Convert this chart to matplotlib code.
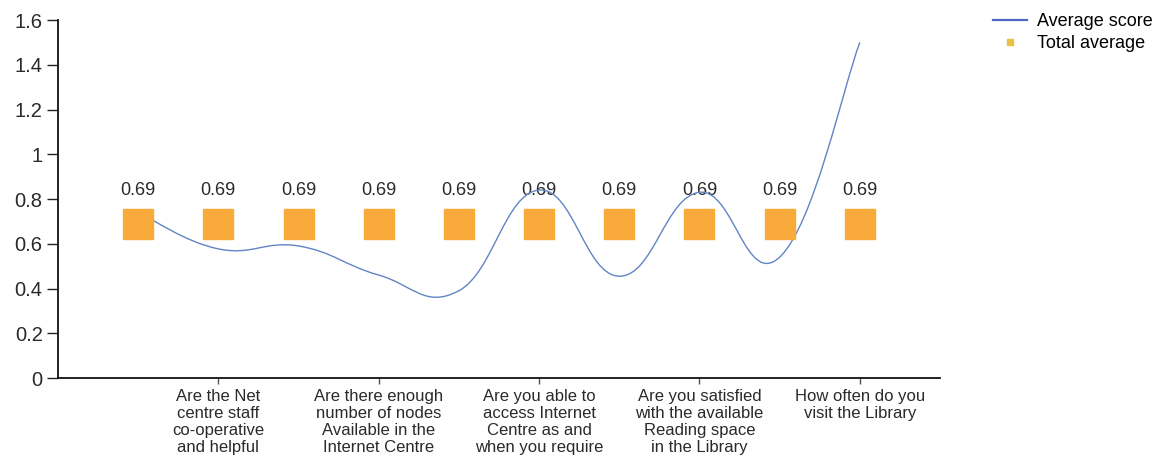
import matplotlib
matplotlib.use("Agg")
import matplotlib.pyplot as plt
from matplotlib.path import Path
from matplotlib.patches import PathPatch
from matplotlib.lines import Line2D
import numpy as np

plt.rcParams['font.family'] = ['Liberation Sans', 'DejaVu Sans']

# ---- data ----
category_index = [1, 2, 3, 4, 5, 6, 7, 8, 9, 10]
average_score = [0.74, 0.577, 0.59, 0.46, 0.39, 0.84, 0.455, 0.83, 0.54, 1.50]
total_average = [0.69, 0.69, 0.69, 0.69, 0.69, 0.69, 0.69, 0.69, 0.69, 0.69]
tick_labels = [
    "Are the Net\ncentre staff\nco-operative\nand helpful",
    "Are there enough\nnumber of nodes\nAvailable in the\nInternet Centre",
    "Are you able to\naccess Internet\nCentre as and\nwhen you require",
    "Are you satisfied\nwith the available\nReading space\nin the Library",
    "How often do you\nvisit the Library",
]
y_ticks = [0, 0.2, 0.4, 0.6, 0.8, 1.0, 1.2, 1.4, 1.6]
y_tick_labels = ["0", "0.2", "0.4", "0.6", "0.8", "1", "1.2", "1.4", "1.6"]

W, H, DPI = 1166, 465, 100
fig = plt.figure(figsize=(W / DPI, H / DPI), dpi=DPI)
ax = fig.add_axes([58 / W, 1 - 378 / H, (940 - 58) / W, (378 - 20) / H])

ax.set_xlim(0, 11)
ax.set_ylim(0, 1.6)

# cardinal spline (tension 0.8) through the data points, drawn as cubic Bezier
pts = np.column_stack([category_index, average_score]).astype(float)
t = 0.8
n = len(pts)
verts = [tuple(pts[0])]
codes = [Path.MOVETO]
for i in range(n - 1):
    p0 = pts[i - 1] if i > 0 else pts[i]
    p1 = pts[i]
    p2 = pts[i + 1]
    p3 = pts[i + 2] if i + 2 < n else pts[i + 1]
    c1 = p1 + (t / 3.0) * (p2 - p0) / 2.0 * 1.6
    c2 = p2 - (t / 3.0) * (p3 - p1) / 2.0 * 1.6
    verts += [tuple(c1), tuple(c2), tuple(p2)]
    codes += [Path.CURVE4] * 3
line_color = '#6185C4'
ax.add_patch(PathPatch(Path(verts, codes), facecolor='none', edgecolor=line_color,
                       lw=1.0, zorder=2))

# total average squares + labels
sq_color = '#F8AA3A'
ax.plot(category_index, total_average, linestyle='none', marker='s', markersize=22,
        markerfacecolor=sq_color, markeredgecolor=sq_color, zorder=3)
for x, v in zip(category_index, total_average):
    ax.annotate(f"{v:.2f}", (x, v), xytext=(0, 18), textcoords='offset points',
                ha='center', va='bottom', fontsize=13, color='#2a2a2a', zorder=1)

# axes styling
for s in ['top', 'right']:
    ax.spines[s].set_visible(False)
for s in ['left', 'bottom']:
    ax.spines[s].set_color('#111111')
    ax.spines[s].set_linewidth(1.3)

ax.set_yticks(y_ticks)
ax.set_yticklabels(y_tick_labels, fontsize=14.5, color='#2a2a2a')
ax.tick_params(axis='y', direction='out', length=8, width=1, pad=3, color='#222222')

ax.set_xticks(category_index[1::2])
ax.set_xticklabels(tick_labels, fontsize=12, color='#2a2a2a', linespacing=1.15)
ax.tick_params(axis='x', direction='out', length=4, width=1, pad=4, color='#555555')

# legend
handles = [Line2D([], [], color='#5068C8', lw=1.6),
           Line2D([], [], linestyle='none', marker='s', markersize=4,
                  markerfacecolor='#EBC14A', markeredgecolor='#EBC14A')]
fig.legend(handles, ["Average score", "Total average"], loc='upper left',
           bbox_to_anchor=(993 / W, 1 - 13 / H), frameon=False, fontsize=13,
           handlelength=1.9, handletextpad=0.55, labelspacing=0.3,
           borderaxespad=0, borderpad=0)

fig.savefig("out.png", dpi=DPI)
